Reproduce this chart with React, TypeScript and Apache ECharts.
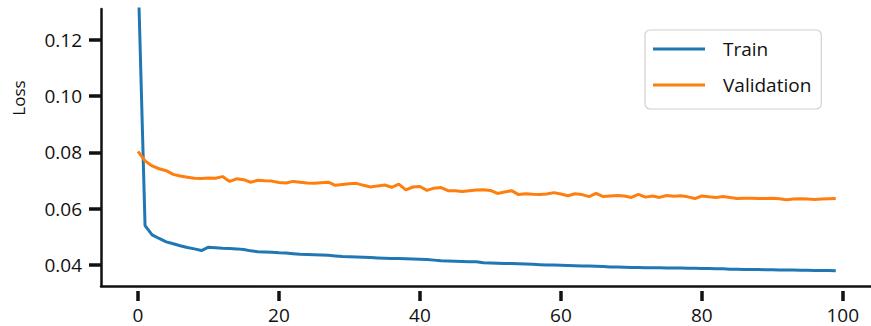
import React, { useEffect, useRef } from "react";
import * as echarts from "echarts";

const epochs: number[] = Array.from({ length: 100 }, (_, i) => i);

const trainLoss: number[] = [
  0.145, 0.054, 0.0507, 0.0494, 0.0482, 0.0475, 0.0468, 0.0462, 0.0457, 0.0451,
  0.0463, 0.0461, 0.0459, 0.0458, 0.0457, 0.0455, 0.045, 0.0447, 0.0446, 0.0445,
  0.0443, 0.0442, 0.044, 0.0438, 0.0437, 0.0436, 0.0435, 0.0434, 0.0432, 0.043,
  0.0429, 0.0428, 0.0427, 0.0426, 0.0425, 0.0424, 0.0423, 0.0423, 0.0422, 0.0421,
  0.042, 0.0419, 0.0417, 0.0415, 0.0414, 0.0413, 0.0412, 0.0411, 0.0411, 0.0408,
  0.0407, 0.0406, 0.0405, 0.0405, 0.0404, 0.0403, 0.0402, 0.0401, 0.04, 0.04,
  0.0399, 0.0398, 0.0397, 0.0396, 0.0396, 0.0395, 0.0394, 0.0393, 0.0393, 0.0392,
  0.0391, 0.0391, 0.039, 0.039, 0.039, 0.0389, 0.0389, 0.0389, 0.0388, 0.0388,
  0.0387, 0.0387, 0.0386, 0.0386, 0.0385, 0.0385, 0.0384, 0.0384, 0.0384, 0.0383,
  0.0383, 0.0382, 0.0382, 0.0382, 0.0381, 0.0381, 0.038, 0.038, 0.038, 0.0379,
];

const valLoss: number[] = [
  0.0804, 0.077, 0.0752, 0.0742, 0.0735, 0.0722, 0.0716, 0.0712, 0.0708, 0.0707,
  0.0709, 0.0708, 0.0714, 0.0697, 0.0706, 0.0703, 0.0694, 0.0701, 0.0699, 0.0698,
  0.0693, 0.0691, 0.0697, 0.0694, 0.0691, 0.069, 0.0692, 0.0694, 0.0683, 0.0686,
  0.0689, 0.069, 0.0683, 0.0677, 0.0681, 0.0684, 0.0676, 0.0687, 0.0667, 0.0677,
  0.0679, 0.0665, 0.0673, 0.0675, 0.0664, 0.0664, 0.0661, 0.0664, 0.0666, 0.0667,
  0.0665, 0.0654, 0.0659, 0.0664, 0.065, 0.0653, 0.0651, 0.065, 0.0652, 0.0657,
  0.0652, 0.0646, 0.0653, 0.065, 0.0643, 0.0654, 0.0643, 0.0645, 0.0647, 0.0645,
  0.064, 0.0651, 0.0641, 0.0645, 0.064, 0.0647, 0.0644, 0.0646, 0.0642, 0.0636,
  0.0645, 0.0642, 0.064, 0.0643, 0.064, 0.0636, 0.0637, 0.0637, 0.0636, 0.0636,
  0.0637, 0.0635, 0.0632, 0.0634, 0.0635, 0.0634, 0.0633, 0.0634, 0.0635, 0.0636,
];

const xTicks: number[] = [0, 20, 40, 60, 80, 100];
const yTicks: number[] = [0.04, 0.06, 0.08, 0.1, 0.12];
const seriesNames: string[] = ["Train", "Validation"];
const yLabel = "Loss";

const FONT = "'Open Sans', sans-serif";

export default function App() {
  const ref = useRef<HTMLDivElement>(null);
  useEffect(() => {
    if (!ref.current) return;
    const chart = echarts.init(ref.current, undefined, { renderer: "svg" });
    const pair = (arr: number[]) => epochs.map((e, i) => [e, arr[i]]);
    chart.setOption({
      animation: false,
      backgroundColor: "#ffffff",
      grid: { left: 101, top: 9, width: 775.3, height: 277, containLabel: false },
      legend: {
        orient: "vertical",
        left: 645,
        top: 30,
        icon: "rect",
        itemWidth: 52,
        itemHeight: 3,
        itemGap: 16,
        padding: [9, 10, 14, 8],
        backgroundColor: "#ffffff",
        borderColor: "#d0d0d0",
        borderWidth: 1.2,
        borderRadius: 5,
        textStyle: {
          fontFamily: FONT,
          fontSize: 19,
          lineHeight: 20,
          color: "#111",
          padding: [0, 0, 0, 13],
        },
        data: seriesNames,
      },
      xAxis: [
        {
          type: "value",
          min: -5.25,
          max: 104,
          axisLine: { show: true, onZero: false, lineStyle: { color: "#111", width: 2.5 } },
          axisTick: { show: false },
          axisLabel: { show: false },
          splitLine: { show: false },
        },
        {
          type: "value",
          min: -5.25,
          max: 104,
          position: "bottom",
          offset: 5,
          axisLine: { show: false, onZero: false },
          axisTick: {
            show: true,
            customValues: xTicks,
            length: 10,
            lineStyle: { color: "#111", width: 3.5 },
          },
          axisLabel: {
            show: true,
            customValues: xTicks,
            margin: 14,
            fontFamily: FONT,
            fontSize: 19,
            color: "#111",
          },
          splitLine: { show: false },
        },
      ],
      yAxis: {
        type: "value",
        min: 0.0325,
        max: 0.131,
        axisLine: { show: true, onZero: false, lineStyle: { color: "#111", width: 2.5 } },
        axisTick: {
          show: true,
          customValues: yTicks,
          length: 12,
          lineStyle: { color: "#111", width: 3.5 },
        },
        axisLabel: {
          show: true,
          customValues: yTicks,
          margin: 19,
          fontFamily: FONT,
          fontSize: 19,
          color: "#111",
          formatter: (v: number) => v.toFixed(2),
        },
        splitLine: { show: false },
      },
      graphic: [
        {
          type: "text",
          x: 18,
          y: 98,
          rotation: Math.PI / 2,
          style: {
            text: yLabel,
            fontFamily: FONT,
            fontSize: 17,
            fill: "#111",
            textAlign: "center",
            textVerticalAlign: "middle",
          },
        },
      ],
      series: [
        {
          name: seriesNames[0],
          type: "line",
          xAxisIndex: 0,
          data: pair(trainLoss),
          showSymbol: false,
          clip: true,
          lineStyle: { color: "#1f77b4", width: 3 },
          itemStyle: { color: "#1f77b4" },
        },
        {
          name: seriesNames[1],
          type: "line",
          xAxisIndex: 0,
          data: pair(valLoss),
          showSymbol: false,
          clip: true,
          lineStyle: { color: "#ff7f0e", width: 3 },
          itemStyle: { color: "#ff7f0e" },
        },
      ],
    });
    return () => chart.dispose();
  }, []);
  return (
    <div
      ref={ref}
      style={{ position: "absolute", left: 0, top: 0, width: 871, height: 326 }}
    />
  );
}
